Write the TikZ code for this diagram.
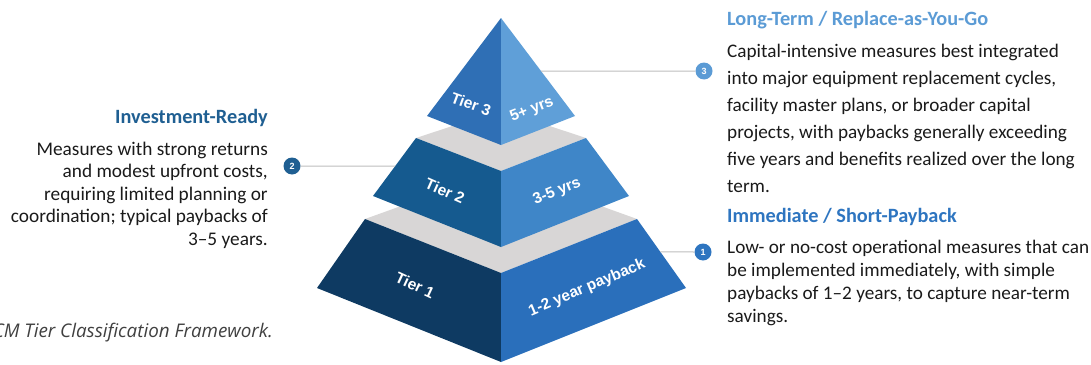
\documentclass[tikz,border=0pt]{standalone}
\usepackage{fontspec}
\setmainfont{Carlito}
\newfontfamily\tierfont{Liberation Sans}
\newfontfamily\capfont{Open Sans}
\usetikzlibrary{calc}

% palette
\definecolor{tOneL}{HTML}{0E3A62}
\definecolor{tOneR}{HTML}{2A6FBB}
\definecolor{tTwoL}{HTML}{155A8F}
\definecolor{tTwoR}{HTML}{3F86C8}
\definecolor{tThreeL}{HTML}{2F6FB5}
\definecolor{tThreeR}{HTML}{5F9FD8}
\definecolor{ledge}{HTML}{D8D6D6}
\definecolor{headA}{HTML}{5B9BD5}
\definecolor{headB}{HTML}{2E75C0}
\definecolor{headC}{HTML}{1F5F92}
\definecolor{bodytxt}{HTML}{1A1A1A}
\definecolor{connline}{HTML}{BDBDBD}

\newcommand\topstrut{\rule{0pt}{20pt}}

\begin{document}
\begin{tikzpicture}[x=1pt,y=-1pt,
  tierlbl/.style={text=white,font=\tierfont\bfseries\fontsize{15.5}{18}\selectfont,inner sep=0pt},
  badge/.style={circle,minimum size=17pt,inner sep=0pt,text=white,
                font=\tierfont\bfseries\fontsize{9}{10}\selectfont},
  conn/.style={draw=connline,line width=1pt},
  heading/.style={font=\bfseries\fontsize{20.3}{24}\selectfont,inner sep=0pt},
  bodyA/.style={text=bodytxt,font=\fontsize{19.2}{27}\selectfont,inner sep=0pt},
  bodyB/.style={text=bodytxt,font=\fontsize{19.2}{23}\selectfont,inner sep=0pt},
  bodyC/.style={text=bodytxt,font=\fontsize{19.3}{22.5}\selectfont,inner sep=0pt}
]
\useasboundingbox (0,0) rectangle (1091,364);

% ---- pyramid geometry ----
% tier 1 (base)
\coordinate (aTL) at (365,219);
\coordinate (aTB) at (501,170);
\coordinate (aTR) at (637,219);
\coordinate (aTF) at (501,273);
\coordinate (aBL) at (317,288);
\coordinate (aBR) at (686,288);
\coordinate (aBF) at (501,362);
% tier 2
\coordinate (bTL) at (416,138);
\coordinate (bTB) at (501,110);
\coordinate (bTR) at (586,138);
\coordinate (bTF) at (501,171);
\coordinate (bBL) at (373,196);
\coordinate (bBR) at (629,196);
\coordinate (bBF) at (501,247);
% tier 3 (cap)
\coordinate (apex) at (501,18);
\coordinate (cBL) at (427,116);
\coordinate (cBR) at (575,116);
\coordinate (cBF) at (501,145);

% tier 1
\fill[ledge] (aTL) -- (aTB) -- (aTR) -- (aTF) -- cycle;
\fill[tOneL] (aTL) -- (aTF) -- (aBF) -- (aBL) -- cycle;
\fill[tOneR] (aTR) -- (aTF) -- (aBF) -- (aBR) -- cycle;
% tier 2
\fill[ledge] (bTL) -- (bTB) -- (bTR) -- (bTF) -- cycle;
\fill[tTwoL] (bTL) -- (bTF) -- (bBF) -- (bBL) -- cycle;
\fill[tTwoR] (bTR) -- (bTF) -- (bBF) -- (bBR) -- cycle;
% tier 3
\fill[tThreeL] (apex) -- (cBF) -- (cBL) -- cycle;
\fill[tThreeR] (apex) -- (cBF) -- (cBR) -- cycle;

% face labels
\node[tierlbl,rotate=-20] (l3a) at (471,104) {Tier 3};
\node[tierlbl,rotate=22]  (l3b) at (532,110) {5+ yrs};
\node[tierlbl,rotate=-24] (l2a) at (445,191) {Tier 2};
\node[tierlbl,rotate=22]  (l2b) at (557,192) {3-5 yrs};
\node[tierlbl,rotate=-25] (l1a) at (415,285) {Tier 1};
\node[tierlbl,rotate=23]  (l1b) at (587,288) {1-2 year payback};

% ---- numbered badges and leader lines ----
\coordinate (e3) at ($(apex)!0.541!(cBR)$);
\coordinate (e2) at ($(bTL)!0.483!(bBL)$);
\coordinate (e1) at ($(aTR)!0.478!(aBR)$);

\node[badge,fill=headA] (n3) at (704,71) {3};
\node[badge,fill=headC] (n2) at (292,166) {2};
\node[badge,fill=headB] (n1) at (703,252) {1};

\draw[conn] (n3) -- (e3);
\draw[conn] (n2) -- (e2);
\draw[conn] (n1) -- (e1);

% ---- text blocks ----
\node[heading,text=headA,anchor=base west] (h3) at (727,25) {Long-Term / Replace-as-You-Go};
\node[bodyA,anchor=north west,align=left] (d3) at (727,37)
  {\topstrut Capital-intensive measures best integrated\\
   into major equipment replacement cycles,\\
   facility master plans, or broader capital\\
   projects, with paybacks generally exceeding\\
   five years and benefits realized over the long\\
   term.};

\node[heading,text=headB,anchor=base west] (h1) at (727,222) {Immediate / Short-Payback};
\node[bodyB,anchor=north west,align=left] (d1) at (727,233)
  {\topstrut Low- or no-cost operational measures that can\\
   be implemented immediately, with simple\\
   paybacks of 1--2 years, to capture near-term\\
   savings.};

\node[heading,text=headC,anchor=base east] (h2) at (268,123) {Investment-Ready};
\node[bodyC,anchor=north east,align=right] (d2) at (268,135)
  {\topstrut Measures with strong returns\\
   and modest upfront costs,\\
   requiring limited planning or\\
   coordination; typical paybacks of\\
   3--5 years.};

% caption, running off the left edge
\node[anchor=base east,inner sep=0pt,text=black!75,
      font=\capfont\itshape\fontsize{18.8}{21}\selectfont] (cap) at (273,337)
  {CM Tier Classification Framework.};
\end{tikzpicture}
\end{document}
